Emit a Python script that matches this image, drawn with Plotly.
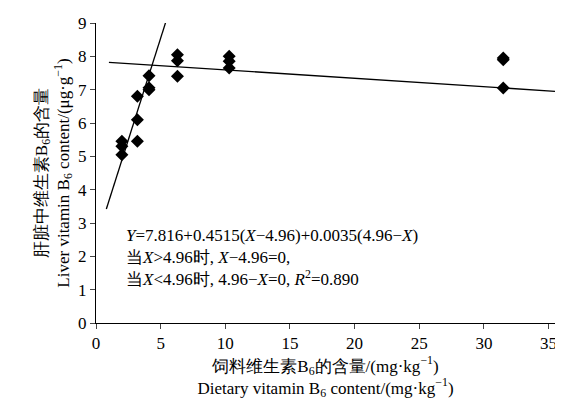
import plotly.graph_objects as go

FONT = "Liberation Serif, Times New Roman, serif"

feed = [2.0, 2.0, 2.0, 3.2, 3.2, 3.2, 4.1, 4.1, 4.1, 6.3, 6.3, 6.3, 10.3, 10.3, 10.3, 31.5, 31.5, 31.5]
liver = [5.45, 5.3, 5.05, 6.8, 6.1, 5.45, 7.42, 7.06, 7.0, 8.05, 7.87, 7.4, 8.0, 7.85, 7.65, 7.95, 7.9, 7.05]

rise_x = [0.8, 5.7]
rise_y = [3.42, 9.4]
flat_x = [1.0, 35.5]
flat_y = [7.82, 6.95]

fig = go.Figure()
fig.add_trace(go.Scatter(x=rise_x, y=rise_y, mode="lines", line=dict(color="black", width=1.3)))
fig.add_trace(go.Scatter(x=flat_x, y=flat_y, mode="lines", line=dict(color="black", width=1.3)))
fig.add_trace(go.Scatter(x=feed, y=liver, mode="markers",
                         marker=dict(symbol="diamond", size=10, color="black")))

fig.update_layout(
    width=563, height=401, showlegend=False,
    plot_bgcolor="white", paper_bgcolor="white",
    margin=dict(l=88, r=16, t=15, b=86),
    font=dict(family=FONT, size=17, color="black"),
)
axis = dict(showline=True, linecolor="black", linewidth=1, ticks="outside", ticklen=5,
            showgrid=False, zeroline=False, mirror=False, automargin=False)
fig.update_xaxes(range=[0, 35.5], dtick=5, **axis,
                 title=dict(text="饲料维生素B<sub>6</sub>的含量/(mg·kg<sup>−1</sup>)<br>Dietary vitamin B<sub>6</sub> content/(mg·kg<sup>−1</sup>)",
                            font=dict(size=17), standoff=4))
fig.update_yaxes(range=[0, 9], dtick=1, **axis,
                 title=dict(text="肝脏中维生素B<sub>6</sub>的含量<br>Liver vitamin B<sub>6</sub> content/(μg·g<sup>−1</sup>)",
                            font=dict(size=17), standoff=4))

fig.add_annotation(x=0.06, y=0.33, xref="paper", yref="paper", xanchor="left", yanchor="top",
                   align="left", showarrow=False, font=dict(size=17),
                   text="<i>Y</i>=7.816+0.4515(<i>X</i>−4.96)+0.0035(4.96−<i>X</i>)<br>"
                        "当<i>X</i>>4.96时, <i>X</i>−4.96=0,<br>"
                        "当<i>X</i><4.96时, 4.96−<i>X</i>=0, <i>R</i><sup>2</sup>=0.890")

fig.write_html("out.html")
